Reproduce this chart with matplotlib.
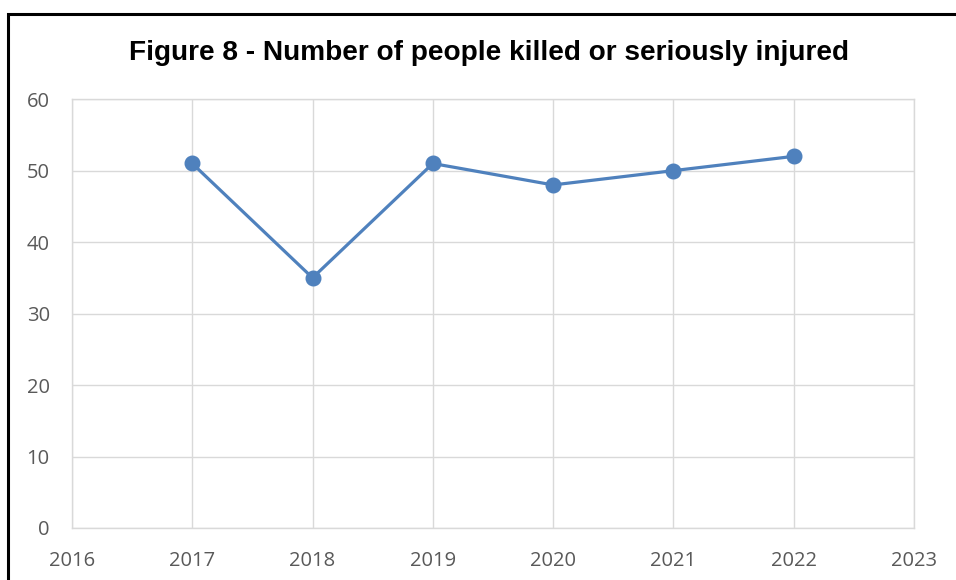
import matplotlib.pyplot as plt
from matplotlib.patches import Rectangle

# Killed or seriously injured, per year
years = [2017, 2018, 2019, 2020, 2021, 2022]
ksi = [51, 35, 51, 48, 50, 52]

x_ticks = list(range(2016, 2024))
y_ticks = list(range(0, 70, 10))

fig = plt.figure(figsize=(9.56, 5.8), dpi=100)
ax = fig.add_axes([0.0753, 0.0897, 0.8807, 0.7393])

ax.plot(years, ksi, color="#4F81BD", linewidth=2.3, marker="o",
        markersize=10.5, zorder=3)

ax.set_xlim(2016, 2023)
ax.set_ylim(0, 60)
ax.set_xticks(x_ticks)
ax.set_yticks(y_ticks)

ax.grid(True, color="#D9D9D9", linewidth=1.0)
ax.set_axisbelow(True)
for s in ax.spines.values():
    s.set_color("#D9D9D9")
    s.set_linewidth(1.0)

ax.tick_params(length=0, labelsize=14.5, labelcolor="#595959")
ax.tick_params(axis="y", pad=16)
ax.tick_params(axis="x", pad=16.5)
for lab in ax.get_xticklabels() + ax.get_yticklabels():
    lab.set_fontfamily("Open Sans")

fig.text(0.5115, 0.909, "Figure 8 - Number of people killed or seriously injured",
         ha="center", va="center", fontsize=20.2, fontweight="bold",
         fontfamily="Liberation Sans", color="black")

# chart border, clipped at right and bottom
fig.patches.append(Rectangle((8 / 956, -0.1), 1.5, 1.1 - 14 / 580,
                             transform=fig.transFigure, fill=False,
                             edgecolor="black", linewidth=2.2))

fig.savefig("out.png", dpi=100)
